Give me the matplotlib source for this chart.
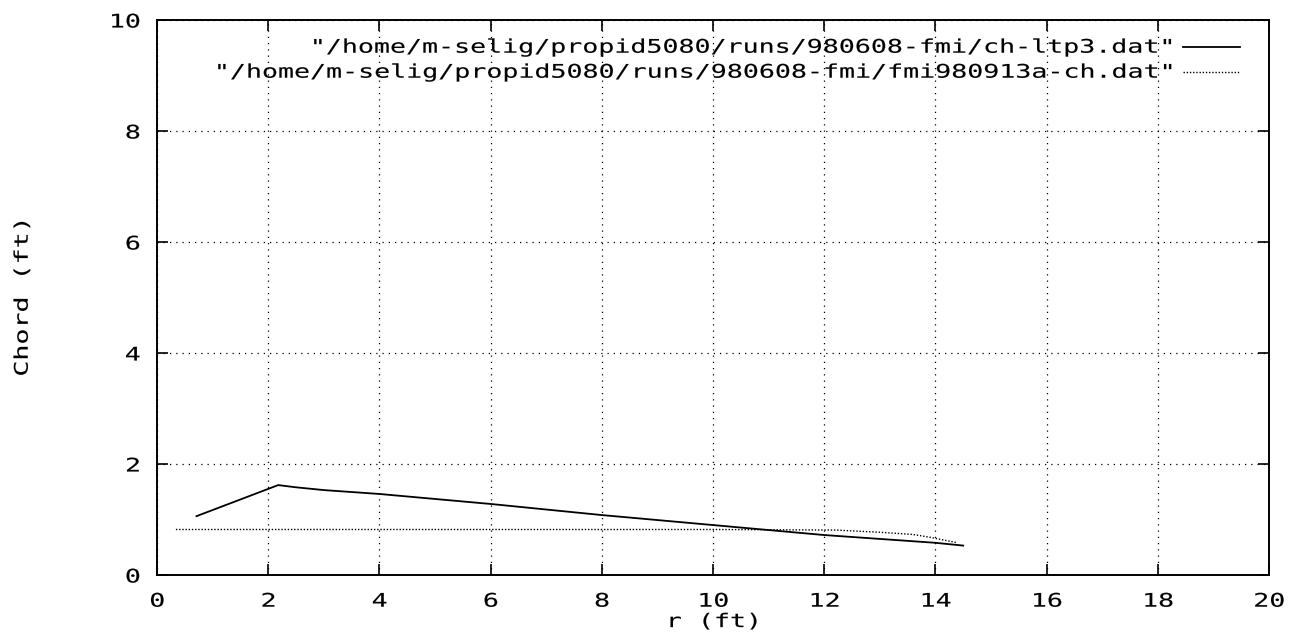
import numpy as np
import matplotlib
matplotlib.use('Agg')
import matplotlib.pyplot as plt
from matplotlib.patheffects import AbstractPathEffect
from matplotlib.transforms import Affine2D

# ----
# Data
# ----
r_ltp3 = [0.71, 2.18, 2.5, 3.0, 4.0, 5.0, 6.0, 7.0, 8.0, 9.0, 10.0, 11.0, 12.0, 13.0, 14.0, 14.5]
c_ltp3 = [1.06, 1.62, 1.58, 1.53, 1.46, 1.37, 1.28, 1.18, 1.08, 0.99, 0.90, 0.81, 0.72, 0.65, 0.58, 0.53]

r_fmi = [0.34, 10.0, 12.2, 13.0, 13.6, 13.9, 14.2, 14.4]
c_fmi = [0.82, 0.82, 0.81, 0.77, 0.73, 0.68, 0.62, 0.58]

labels = ['"/home/m-selig/propid5080/runs/980608-fmi/ch-ltp3.dat"',
          '"/home/m-selig/propid5080/runs/980608-fmi/fmi980913a-ch.dat"']

xticks = np.arange(0, 21, 2)
yticks = np.arange(0, 11, 2)


class Widen(AbstractPathEffect):
    """Stretch glyph outlines along the text direction (wide terminal font look)"""
    def __init__(self, sx=1.42, anchor=0.5, stroke=0.1):
        super().__init__()
        self.sx = sx
        self.anchor = anchor
        self.stroke = stroke

    def draw_path(self, renderer, gc, tpath, affine, rgbFace=None):
        xs = tpath.vertices[:, 0]
        x0 = xs.min() + self.anchor * (xs.max() - xs.min())
        pre = Affine2D().translate(-x0, 0).scale(self.sx, 1).translate(x0, 0)
        gc0 = renderer.new_gc()
        gc0.copy_properties(gc)
        gc0.set_linewidth(self.stroke)
        renderer.draw_path(gc0, tpath, pre + affine, rgbFace)
        gc0.restore()


plt.rcParams['font.family'] = 'DejaVu Sans Mono'
plt.rcParams['font.size'] = 13.5

fig = plt.figure(figsize=(12.96, 6.39), dpi=100)
W, H = 1296, 639
L, R, T, B = 157, 1269, 20, 575
ax = fig.add_axes([L / W, 1 - B / H, (R - L) / W, (B - T) / H])

ax.plot(r_ltp3, c_ltp3, color='k', lw=1.3, solid_joinstyle='miter')
ax.plot(r_fmi, c_fmi, color='k', lw=1.0, ls=(0, (1, 1.3)))

ax.set_xlim(0, 20)
ax.set_ylim(0, 10)
ax.set_xticks(xticks)
ax.set_yticks(yticks)
ax.grid(True, color='k', lw=0.9, ls=(0, (1, 4)))
ax.tick_params(direction='in', length=8, width=1.2, top=True, right=True, pad=12)
for s in ax.spines.values():
    s.set_linewidth(1.4)

ax.set_xlabel('r (ft)', labelpad=1)
ax.set_ylabel('Chord (ft)', labelpad=62)

# key, right aligned text with line samples
ax.text(0.9128, 0.951, labels[0], transform=ax.transAxes, ha='right', va='center',
        path_effects=[Widen(anchor=1.0)])
ax.text(0.9128, 0.906, labels[1], transform=ax.transAxes, ha='right', va='center',
        path_effects=[Widen(anchor=1.0)])
ax.plot([0.9227, 0.974], [0.951, 0.951], transform=ax.transAxes, color='k', lw=1.3)
ax.plot([0.9227, 0.974], [0.906, 0.906], transform=ax.transAxes, color='k', lw=1.0, ls=(0, (1, 1.3)))

fig.canvas.draw()
for t in ax.get_xticklabels():
    t.set_path_effects([Widen(anchor=0.5)])
for t in ax.get_yticklabels():
    t.set_path_effects([Widen(anchor=1.0)])
ax.xaxis.label.set_path_effects([Widen(anchor=0.5)])
ax.yaxis.label.set_path_effects([Widen(anchor=0.5)])

fig.savefig('out.png', dpi=100)
